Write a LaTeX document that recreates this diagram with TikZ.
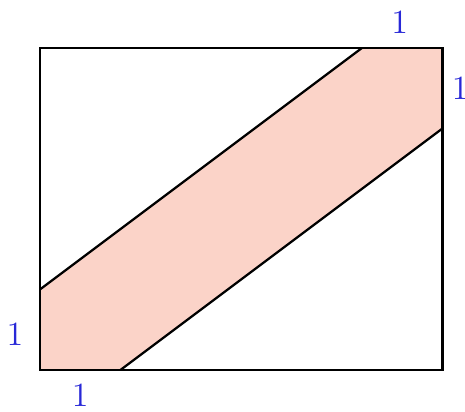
\documentclass[tikz,border=0pt]{standalone}
\definecolor{bandpink}{RGB}{251,211,200}
\definecolor{lblblue}{RGB}{40,40,215}
\begin{document}
\begin{tikzpicture}[line width=0.8pt]

    \useasboundingbox (-0.497,-0.522) rectangle (5.28,4.596);

    \coordinate (O) at (0,0);
    \coordinate (P) at (5,4);
    \coordinate (B1) at (1,0);
    \coordinate (R1) at (5,3);
    \coordinate (T1) at (4,4);
    \coordinate (L1) at (0,1);

    % the band
    \fill[bandpink] (O) -- (B1) -- (R1) -- (5,4) -- (T1) -- (L1) -- cycle;
    \draw (B1) -- (R1);
    \draw (L1) -- (T1);

    \draw (O) rectangle (P);

    \node[lblblue] (top) at (4.47, 4.32) {\large 1};
    \node[lblblue] (right) at (5.22, 3.5) {\large 1};
    \node[lblblue] (left) at (-0.31, 0.45) {\large 1};
    \node[lblblue] (bottom) at (0.5, -0.31) {\large 1};

  \end{tikzpicture}
\end{document}
